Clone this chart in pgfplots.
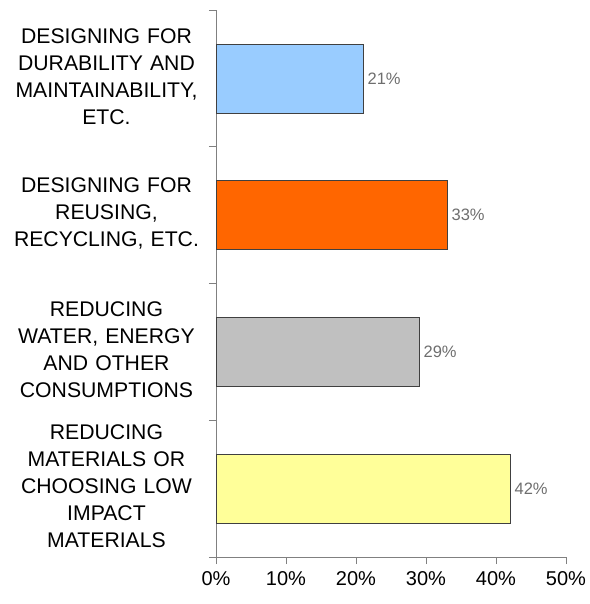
\documentclass[border=0pt]{standalone}
\usepackage{pgfplots}
\pgfplotsset{compat=1.18}
\usepackage{fontspec}
\setmainfont{Liberation Sans}
\definecolor{cblue}{HTML}{99CCFF}
\definecolor{corange}{HTML}{FF6600}
\definecolor{cgray}{HTML}{C0C0C0}
\definecolor{cyellow}{HTML}{FFFF99}
\definecolor{axgray}{HTML}{808080}
\definecolor{valgray}{HTML}{6E6E6E}
\begin{document}
\begin{tikzpicture}
\begin{axis}[
  at={(0,0)}, anchor=south west,
  scale only axis,
  width=350bp, height=547bp,
  xmin=0, xmax=50,
  ymin=-0.5, ymax=3.5,
  axis x line*=bottom,
  axis y line*=left,
  axis line style={axgray, line width=0.8pt},
  xtick={0,10,20,30,40,50},
  xticklabel={\pgfmathprintnumber{\tick}\%},
  /pgf/number format/assume math mode=true,
  xticklabel style={font=\fontsize{20bp}{23bp}\selectfont, yshift=-4bp},
  ytick={0,1,2,3},
  yticklabels={{REDUCING\\MATERIALS OR\\CHOOSING LOW\\IMPACT\\MATERIALS},
               {REDUCING\\WATER, ENERGY\\AND OTHER\\CONSUMPTIONS},
               {DESIGNING FOR\\REUSING,\\RECYCLING, ETC.},
               {DESIGNING FOR\\DURABILITY AND\\MAINTAINABILITY,\\ETC.}},
  yticklabel style={align=center, text width=196bp, font=\fontsize{21.2bp}{27bp}\selectfont, xshift=-1bp, yshift=2bp},
  major y tick style={draw=none},
  minor y tick style={draw=axgray, line width=0.8pt},
  major x tick style={draw=axgray, line width=0.8pt},
  minor ytick={-0.5,0.5,1.5,2.5,3.5},
  minor tick length=7bp,
  major tick length=7bp,
  tick align=outside,
  xbar, bar width=69bp, bar shift=0pt,
  nodes near coords={\pgfmathprintnumber{\pgfplotspointmeta}\%},
  nodes near coords style={font=\fontsize{16.5bp}{20bp}\selectfont, text=valgray, anchor=west, xshift=1bp},
  point meta=x,
  clip=false,
]
\addplot[draw=black!75, fill=cyellow, line width=0.6pt] coordinates {(42,0)};
\addplot[draw=black!75, fill=cgray, line width=0.6pt] coordinates {(29,1)};
\addplot[draw=black!75, fill=corange, line width=0.6pt] coordinates {(33,2)};
\addplot[draw=black!75, fill=cblue, line width=0.6pt] coordinates {(21,3)};
\end{axis}
\pgfresetboundingbox
\path (-216bp,-47bp) rectangle (374bp,557bp);
\end{tikzpicture}
\end{document}
